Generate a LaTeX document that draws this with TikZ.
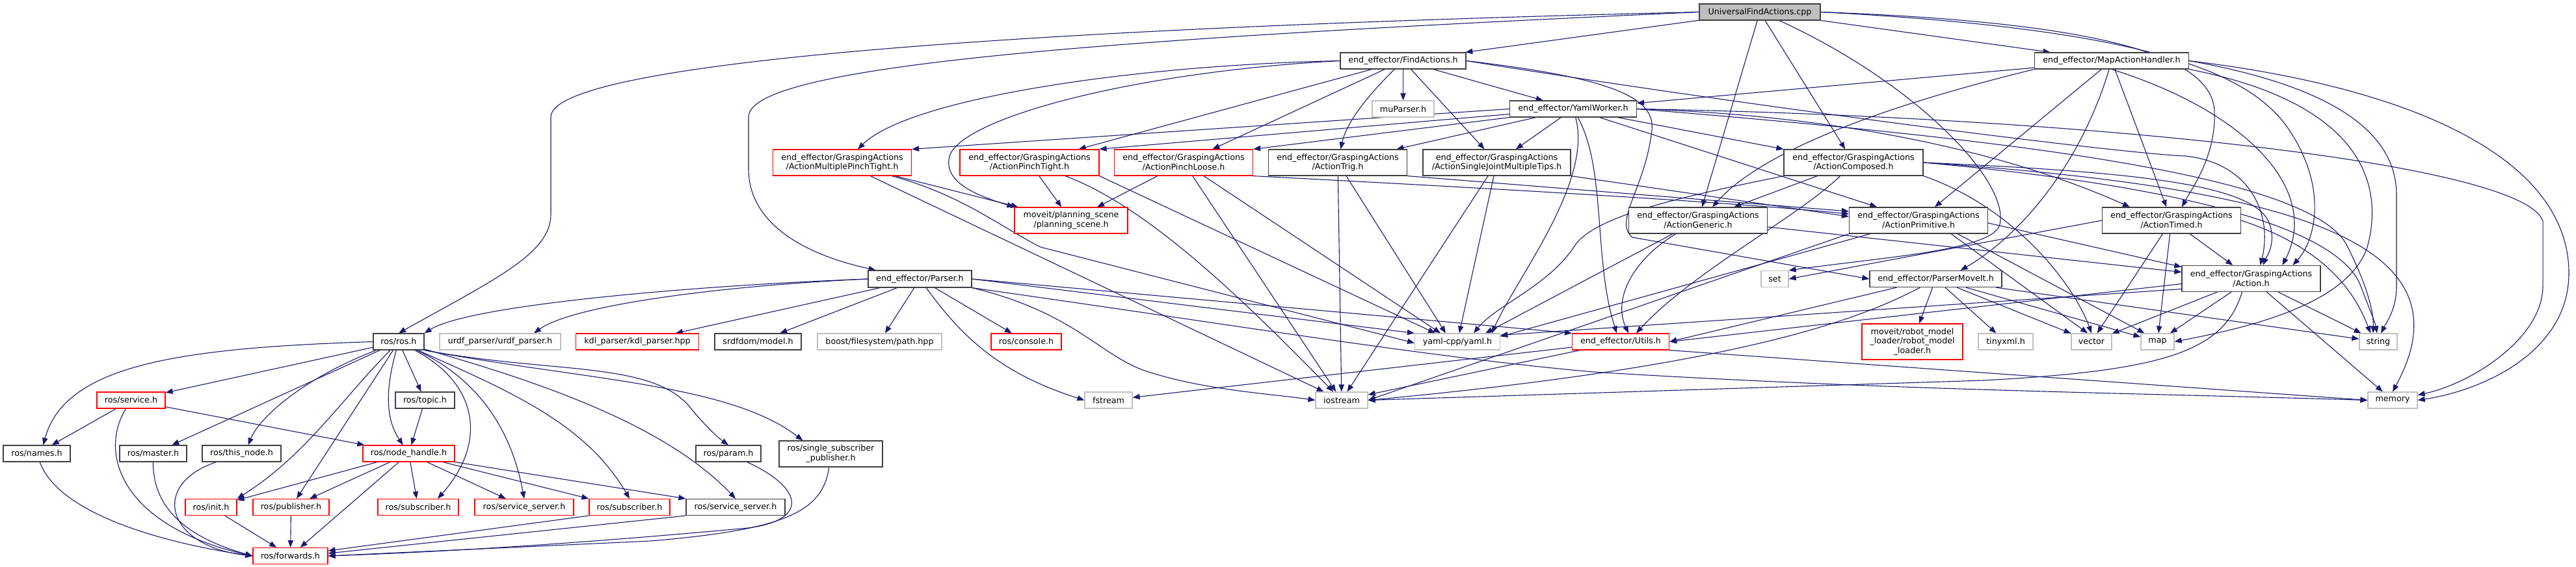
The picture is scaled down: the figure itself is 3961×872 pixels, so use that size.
\documentclass[tikz,border=0pt]{standalone}
\usepackage{fontspec}
\setmainfont{DejaVu Sans}
\usetikzlibrary{arrows.meta}
\definecolor{edgeBlue}{HTML}{191970}
\definecolor{boxGrey}{HTML}{404040}
\definecolor{extGrey}{HTML}{BFBFBF}
\definecolor{truncRed}{HTML}{FF0000}
\pgfdeclarelayer{background}
\pgfsetlayers{background,main}
\tikzset{fileNode/.style={draw=boxGrey, fill=white, line width=0.6pt, inner sep=0pt, align=center}}
\tikzset{truncNode/.style={fileNode, draw=truncRed}}
\tikzset{extNode/.style={fileNode, draw=extGrey}}
\tikzset{rootNode/.style={fileNode, fill=extGrey}}
\tikzset{boxSize/.style 2 args={minimum width=#1*0.5pt, minimum height=#2*0.5pt}}
\tikzset{incEdge/.style={draw=edgeBlue, line width=0.55pt, -{Triangle[length=5.5pt,width=4.2pt]}}}

\begin{document}
\begin{tikzpicture}[x=0.5pt, y=-0.5pt, node font=\fontsize{6.35}{7.35}\selectfont]
\useasboundingbox (0,0) rectangle (3961,872);
%
% files of the package
\node[rootNode, boxSize={186}{25}] (root) at (2706,18.5) {UniversalFindActions.cpp};
\node[fileNode, boxSize={193}{25}] (find) at (2157.5,93.5) {end\_effector/FindActions.h};
\node[fileNode, boxSize={237}{25}] (mapH) at (3247,93.5) {end\_effector/MapActionHandler.h};
\node[fileNode, boxSize={195}{25}] (yaml) at (2419,167.5) {end\_effector/YamlWorker.h};
\node[extNode, boxSize={95}{25}] (mup) at (2157.5,167.5) {muParser.h};
\node[truncNode, boxSize={213}{40}] (mpt) at (1295,250) {end\_effector/GraspingActions\\/ActionMultiplePinchTight.h};
\node[truncNode, boxSize={214}{40}] (pt) at (1583,250) {end\_effector/GraspingActions\\/ActionPinchTight.h};
\node[truncNode, boxSize={213}{40}] (pl) at (1820,250) {end\_effector/GraspingActions\\/ActionPinchLoose.h};
\node[fileNode, boxSize={213}{40}] (trig) at (2057,250) {end\_effector/GraspingActions\\/ActionTrig.h};
\node[fileNode, boxSize={227}{40}] (sjm) at (2301.5,250) {end\_effector/GraspingActions\\/ActionSingleJointMultipleTips.h};
\node[fileNode, boxSize={214}{40}] (comp) at (2850,250) {end\_effector/GraspingActions\\/ActionComposed.h};
\node[truncNode, boxSize={174}{40}] (pscene) at (1647,339) {moveit/planning\_scene\\/planning\_scene.h};
\node[fileNode, boxSize={213}{40}] (gen) at (2611,339) {end\_effector/GraspingActions\\/ActionGeneric.h};
\node[fileNode, boxSize={213}{40}] (prim) at (2950,339) {end\_effector/GraspingActions\\/ActionPrimitive.h};
\node[fileNode, boxSize={213}{40}] (timed) at (3339,339) {end\_effector/GraspingActions\\/ActionTimed.h};
\node[fileNode, boxSize={159}{26}] (parser) at (1414.5,429) {end\_effector/Parser.h};
\node[extNode, boxSize={42}{25}] (set) at (2729,429) {set};
\node[fileNode, boxSize={203}{25}] (pmi) at (2976.5,429) {end\_effector/ParserMoveIt.h};
\node[fileNode, boxSize={213}{40}] (action) at (3461.5,428.5) {end\_effector/GraspingActions\\/Action.h};
%
% included headers
\node[fileNode, boxSize={78}{25}] (ros) at (613,525.5) {ros/ros.h};
\node[extNode, boxSize={186}{25}] (urdf) at (769,525.5) {urdf\_parser/urdf\_parser.h};
\node[truncNode, boxSize={189}{25}] (kdl) at (980,525.5) {kdl\_parser/kdl\_parser.hpp};
\node[fileNode, boxSize={133}{25}] (srdf) at (1165.5,525.5) {srdfdom/model.h};
\node[extNode, boxSize={191}{25}] (boost) at (1352.5,525.5) {boost/filesystem/path.hpp};
\node[truncNode, boxSize={108}{25}] (console) at (1578,525.5) {ros/console.h};
\node[extNode, boxSize={131}{25}] (yamlcpp) at (2241,525.5) {yaml-cpp/yaml.h};
\node[truncNode, boxSize={149}{25}] (utils) at (2492,525.5) {end\_effector/Utils.h};
\node[truncNode, boxSize={155}{55}] (rml) at (2940.5,525.5) {moveit/robot\_model\\\_loader/robot\_model\\\_loader.h};
\node[extNode, boxSize={84}{25}] (tiny) at (3084,525.5) {tinyxml.h};
\node[extNode, boxSize={62}{25}] (vector) at (3216,525.5) {vector};
\node[extNode, boxSize={51}{25}] (mapstd) at (3317.5,525.5) {map};
\node[extNode, boxSize={58}{25}] (string) at (3657,525.5) {string};
\node[truncNode, boxSize={105}{25}] (service) at (201.5,615.5) {ros/service.h};
\node[fileNode, boxSize={91}{25}] (topic) at (653.5,615.5) {ros/topic.h};
\node[extNode, boxSize={73}{25}] (fstream) at (1704.5,615.5) {fstream};
\node[extNode, boxSize={80}{25}] (iostream) at (2063,615.5) {iostream};
\node[extNode, boxSize={76}{25}] (memory) at (3679,615.5) {memory};
\node[fileNode, boxSize={103}{25}] (names) at (56.5,697.5) {ros/names.h};
\node[fileNode, boxSize={103}{25}] (master) at (235.5,697.5) {ros/master.h};
\node[fileNode, boxSize={121}{25}] (thisnode) at (371.5,697.5) {ros/this\_node.h};
\node[truncNode, boxSize={141}{25}] (nh) at (628.5,697.5) {ros/node\_handle.h};
\node[fileNode, boxSize={100}{25}] (param) at (1120,697.5) {ros/param.h};
\node[fileNode, boxSize={159}{40}] (ssp) at (1277.5,698) {ros/single\_subscriber\\\_publisher.h};
\node[truncNode, boxSize={79}{25}] (init) at (324.5,780) {ros/init.h};
\node[truncNode, boxSize={117}{25}] (pub) at (447.5,780) {ros/publisher.h};
\node[truncNode, boxSize={124}{25}] (sub1) at (643,780) {ros/subscriber.h};
\node[truncNode, boxSize={152}{25}] (ss1) at (806,780) {ros/service\_server.h};
\node[truncNode, boxSize={124}{25}] (sub2) at (968,780) {ros/subscriber.h};
\node[fileNode, boxSize={152}{25}] (ss2) at (1131,780) {ros/service\_server.h};
\node[truncNode, boxSize={115}{25}] (fwd) at (446.5,855) {ros/forwards.h};
%
\begin{pgfonlayer}{background}
% root
\draw[incEdge] (root) -- (find);
\draw[incEdge] (root) -- (mapH);
\draw[incEdge] (root) -- (gen);
\draw[incEdge] (root) -- (comp);
\draw[incEdge] (root.west) .. controls (1500,45) and (847,100) .. (847,180) -- (847,330) .. controls (847,390) and (760,430) .. (ros.north);
\draw[incEdge] (root.west) .. controls (1700,60) and (1151,100) .. (1151,180) -- (1151,260) .. controls (1151,340) and (1230,390) .. ([xshift=-34pt]parser.north);
\draw[incEdge] ([xshift=15pt]root.south) .. controls (2950,130) and (3090,280) .. (3075,345) .. controls (3065,385) and (2900,395) .. (set.north east);
\draw[incEdge] (root.east) .. controls (3250,35) and (3400,90) .. (3405,170) .. controls (3408,240) and (3370,290) .. ([xshift=8pt]timed.north);
\draw[incEdge] (root.east) .. controls (3300,45) and (3460,110) .. (3520,200) .. controls (3580,290) and (3560,370) .. ([xshift=32pt]action.north);
% FindActions
\draw[incEdge] (find) -- (mup);
\draw[incEdge] (find) -- (pt);
\draw[incEdge] (find) -- (pl);
\draw[incEdge] (find) .. controls (2100,150) and (2070,190) .. (trig);
\draw[incEdge] (find) -- (sjm);
\draw[incEdge] (find) -- (yaml);
\draw[incEdge] (find.west) .. controls (1750,100) and (1400,150) .. ([xshift=12pt]mpt.north);
\draw[incEdge] (find.west) .. controls (1750,110) and (1480,180) .. (1460,240) .. controls (1450,280) and (1500,300) .. (pscene.north west);
\draw[incEdge] (find.east) .. controls (2700,165) and (3250,235) .. (3360,240) .. controls (3460,250) and (3495,330) .. ([xshift=7pt]action.north);
\draw[incEdge] (find.east) .. controls (2480,120) and (2545,150) .. (2540,200) .. controls (2530,290) and (2480,340) .. (2510,365) -- (pmi.west);
% MapActionHandler
\draw[incEdge] (mapH) -- (yaml);
\draw[incEdge] (mapH.south west) .. controls (2950,150) and (2720,220) .. ([xshift=11pt]gen.north);
\draw[incEdge] (mapH) -- (prim);
\draw[incEdge] (mapH) -- (timed);
\draw[incEdge] (mapH.south) .. controls (3450,170) and (3570,290) .. ([xshift=24pt]action.north);
\draw[incEdge] (mapH) .. controls (3200,250) and (3110,360) .. ([xshift=19pt]pmi.north);
\draw[incEdge] (mapH.south east) .. controls (3640,160) and (3665,290) .. (3640,380) .. controls (3610,470) and (3450,505) .. (mapstd.east);
\draw[incEdge] (mapH.east) .. controls (3600,135) and (3685,210) .. (3685,300) -- (3685,440) .. controls (3685,475) and (3670,495) .. ([xshift=2pt]string.north);
\draw[incEdge] (mapH.east) .. controls (3750,140) and (3950,260) .. (3950,420) .. controls (3950,540) and (3820,600) .. (memory.east);
% YamlWorker
\draw[incEdge] (yaml.west) -- (mpt.north east);
\draw[incEdge] ([yshift=-4pt]yaml.west) -- (pt.north east);
\draw[incEdge] (yaml.south west) -- (pl.north east);
\draw[incEdge] (yaml) -- (trig);
\draw[incEdge] (yaml) -- (sjm);
\draw[incEdge] (yaml) -- (comp);
\draw[incEdge] (yaml) -- (prim);
\draw[incEdge] (yaml.east) .. controls (2850,178) and (3100,240) .. ([xshift=-32pt]timed.north);
\draw[incEdge] (yaml) .. controls (2470,260) and (2450,400) .. ([xshift=-3pt]utils.north);
\draw[incEdge] (yaml) .. controls (2450,280) and (2330,430) .. ([xshift=26.5pt]yamlcpp.north);
\draw[incEdge] (yaml.east) .. controls (3200,180) and (3880,250) .. (3910,340) -- (3910,440) .. controls (3910,520) and (3800,590) .. ([yshift=4pt]memory.east);
\draw[incEdge] (yaml.east) .. controls (3100,215) and (3560,270) .. (3610,380) .. controls (3640,440) and (3650,480) .. ([xshift=-4pt]string.north);
% GraspingActions
\draw[incEdge] ([yshift=-5pt]gen.east) -- ([yshift=5pt]action.west);
\draw[incEdge] (gen) .. controls (2510,400) and (2480,460) .. ([xshift=6pt]utils.north);
\draw[incEdge] (gen) -- ([xshift=21.5pt]yamlcpp.north);
\draw[incEdge] (comp) -- (gen);
\draw[incEdge] (comp) .. controls (2770,330) and (2600,420) .. ([xshift=12pt]utils.north);
\draw[incEdge] (comp.south west) .. controls (2600,300) and (2450,330) .. (2420,380) .. controls (2380,440) and (2300,470) .. ([xshift=12.5pt]yamlcpp.north);
\draw[incEdge] (comp.south east) .. controls (3100,320) and (3190,440) .. (vector.north);
\draw[incEdge] (comp.east) .. controls (3300,265) and (3470,285) .. (3490,345) .. controls (3500,375) and (3485,395) .. ([xshift=9pt]action.north);
\draw[incEdge] (comp.east) .. controls (3400,290) and (3600,360) .. (3630,440) .. controls (3645,480) and (3652,495) .. ([xshift=-1pt]string.north);
\draw[incEdge] (comp.east) .. controls (3550,290) and (3800,380) .. (memory.north);
\draw[incEdge] ([yshift=-2pt]prim.east) -- ([yshift=9pt]action.west);
\draw[incEdge] ([xshift=25pt]prim.south) -- ([xshift=-3pt]vector.north);
\draw[incEdge] ([xshift=30pt]prim.south) -- ([xshift=-10pt]mapstd.north);
\draw[incEdge] (prim) -- ([yshift=4pt]yamlcpp.east);
\draw[incEdge] (prim.south west) -- (iostream.east);
\draw[incEdge] (timed) -- (action);
\draw[incEdge] (timed) -- (vector);
\draw[incEdge] (timed) -- (mapstd);
\draw[incEdge] (timed.east) .. controls (3540,370) and (3610,420) .. ([xshift=-6pt]string.north);
\draw[incEdge] (timed.west) -- (set.east);
\draw[incEdge] (action) -- (vector);
\draw[incEdge] (action) -- (mapstd);
\draw[incEdge] (action) -- (string);
\draw[incEdge] (action) -- (memory);
\draw[incEdge] ([xshift=-7pt]action.south) .. controls (3420,540) and (3330,570) .. (3050,585) -- (iostream.east);
\draw[incEdge] ([yshift=-4pt]action.west) -- (utils.east);
\draw[incEdge] ([yshift=-8pt]action.west) -- ([yshift=5pt]yamlcpp.east);
% ParserMoveIt
\draw[incEdge] (pmi) -- (rml);
\draw[incEdge] (pmi) -- (tiny);
\draw[incEdge] (pmi) -- (vector);
\draw[incEdge] (pmi) -- (mapstd);
\draw[incEdge] (pmi) -- (string);
\draw[incEdge] ([xshift=-12pt]pmi.south) .. controls (2870,485) and (2700,560) .. (iostream.east);
\draw[incEdge] ([xshift=-30pt]pmi.south) -- (utils.east);
% Utils
\draw[incEdge] (utils) -- (fstream);
\draw[incEdge] (utils) -- (iostream);
\draw[incEdge] (utils.south east) -- (memory.west);
% Parser
\draw[incEdge] (parser.west) .. controls (1050,440) and (720,470) .. (ros.north east);
\draw[incEdge] (parser.west) .. controls (1100,440) and (880,470) .. ([xshift=26pt]urdf.north);
\draw[incEdge] (parser) -- (kdl);
\draw[incEdge] (parser) -- (srdf);
\draw[incEdge] (parser) -- (boost);
\draw[incEdge] (parser) -- (console);
\draw[incEdge] (parser) .. controls (1480,520) and (1540,575) .. (fstream.west);
\draw[incEdge] (parser.south east) .. controls (1650,480) and (1690,545) .. (1760,570) .. controls (1850,600) and (1950,605) .. (iostream.west);
\draw[incEdge] (parser.east) -- (utils.north west);
\draw[incEdge] (parser.east) -- (yamlcpp.north west);
\draw[incEdge] (parser.south east) .. controls (1900,500) and (2200,550) .. (2450,572) .. controls (2900,600) and (3300,605) .. (memory.west);
% pinch and trig actions
\draw[incEdge] (mpt) -- (pscene);
\draw[incEdge] (mpt) -- (iostream);
\draw[incEdge] (mpt) .. controls (1480,300) and (1540,350) .. (1600,380) -- ([yshift=-1pt]yamlcpp.west);
\draw[incEdge] (pt) -- (pscene);
\draw[incEdge] (pt) .. controls (1770,320) and (1920,470) .. (iostream);
\draw[incEdge] (pt.south east) -- ([xshift=-17pt]yamlcpp.north);
\draw[incEdge] (pl) -- (pscene);
\draw[incEdge] (pl) -- (iostream);
\draw[incEdge] (pl) -- ([xshift=-13pt]yamlcpp.north);
\draw[incEdge] (pl.south east) .. controls (2300,290) and (2650,310) .. ([yshift=5pt]prim.west);
\draw[incEdge] (trig) -- (iostream);
\draw[incEdge] (trig) -- ([xshift=-9pt]yamlcpp.north);
\draw[incEdge] (trig.south east) -- ([yshift=7pt]prim.west);
\draw[incEdge] (sjm) -- (iostream);
\draw[incEdge] (sjm) -- (yamlcpp);
\draw[incEdge] (sjm.south east) -- ([yshift=3pt]prim.west);
% ros
\draw[incEdge] (ros.west) .. controls (280,535) and (100,560) .. ([xshift=5pt]names.north);
\draw[incEdge] (ros) -- (service);
\draw[incEdge] (ros) -- (master);
\draw[incEdge] (ros) .. controls (470,580) and (400,640) .. ([xshift=5pt]thisnode.north);
\draw[incEdge] (ros) .. controls (520,620) and (470,700) .. (init.north east);
\draw[incEdge] (ros) -- (pub);
\draw[incEdge] (ros) .. controls (595,590) and (590,640) .. (nh);
\draw[incEdge] (ros) -- (topic);
\draw[incEdge] (ros) .. controls (735,590) and (750,680) .. ([xshift=15pt]sub1.north);
\draw[incEdge] (ros) .. controls (750,590) and (790,680) .. (ss1.north);
\draw[incEdge] (ros) .. controls (780,600) and (900,650) .. (sub2.north);
\draw[incEdge] (ros) .. controls (820,585) and (1020,650) .. (ss2.north);
\draw[incEdge] (ros.south east) .. controls (850,575) and (1000,555) .. (1060,625) .. controls (1080,650) and (1100,670) .. (param.north);
\draw[incEdge] (ros.south east) .. controls (900,585) and (1120,590) .. ([xshift=-21.5pt]ssp.north);
\draw[incEdge] (service) -- (names);
\draw[incEdge] (service) .. controls (150,700) and (190,810) .. (fwd.west);
\draw[incEdge] (service) -- (nh);
\draw[incEdge] (topic) -- (nh);
\draw[incEdge] (names) .. controls (90,790) and (250,835) .. (fwd.west);
\draw[incEdge] (master) .. controls (235,790) and (300,830) .. (fwd.west);
\draw[incEdge] (thisnode) .. controls (230,745) and (255,840) .. (fwd.west);
\draw[incEdge] (nh) -- (init);
\draw[incEdge] (nh) -- (pub);
\draw[incEdge] (nh) -- (fwd);
\draw[incEdge] (nh) -- (sub1);
\draw[incEdge] (nh) -- (ss1);
\draw[incEdge] (nh) -- (sub2.north west);
\draw[incEdge] (nh.south east) -- (ss2.north west);
\draw[incEdge] (init) -- (fwd);
\draw[incEdge] (pub) -- (fwd);
\draw[incEdge] (sub2.south west) -- ([yshift=4pt]fwd.east);
\draw[incEdge] (ss2.south west) -- ([yshift=2pt]fwd.east);
\draw[incEdge] (param) .. controls (1235,750) and (1245,800) .. (1150,812) .. controls (900,835) and (700,848) .. (fwd.east);
\draw[incEdge] (ssp) .. controls (1265,790) and (1200,815) .. (1000,832) -- (fwd.east);
\end{pgfonlayer}
\end{tikzpicture}
\end{document}
